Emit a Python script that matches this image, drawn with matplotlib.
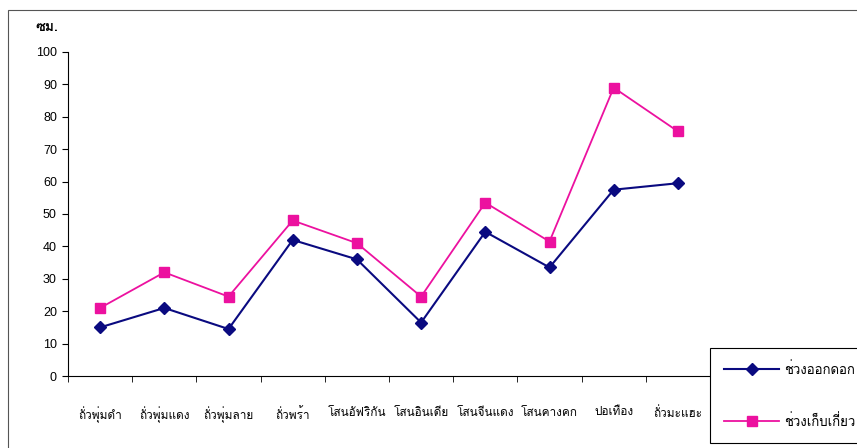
import matplotlib
matplotlib.use("Agg")
import matplotlib.pyplot as plt
from matplotlib.patches import Rectangle

plants = ["ถั่วพุ่มดำ", "ถั่วพุ่มแดง", "ถั่วพุ่มลาย", "ถั่วพร้า", "โสนอัฟริกัน",
          "โสนอินเดีย", "โสนจีนแดง", "โสนคางคก", "ปอเทือง", "ถั่วมะแฮะ"]
flowering = [15, 21, 14.5, 42, 36, 16.5, 44.5, 33.5, 57.5, 59.5]
harvest = [21, 32, 24.5, 48, 41, 24.5, 53.5, 41.5, 89, 75.5]

thai = ["Loma", "DejaVu Sans"]
plt.rcParams["font.family"] = ["Liberation Sans", "DejaVu Sans"]

fig = plt.figure(figsize=(8.57, 4.48), dpi=100)
ax = fig.add_axes([68 / 857, 72 / 448, 642 / 857, 324 / 448])

x = list(range(len(plants)))
ax.plot(x, flowering, color="#0a0a80", lw=1.5, marker="D", ms=6.5,
        label="ช่วงออกดอก")
ax.plot(x, harvest, color="#ec119f", lw=1.3, marker="s", ms=7.5,
        label="ช่วงเก็บเกี่ยว")

ax.set_xlim(-0.5, len(plants) - 0.5)
ax.set_ylim(0, 100)
ax.set_yticks(range(0, 101, 10))
ax.set_xticks(x)
ax.set_xticklabels(plants, family=thai, fontsize=8.5)
ax.set_xticks([i - 0.5 for i in range(len(plants) + 1)], minor=True)
ax.tick_params(axis="x", which="major", length=0, pad=22)
ax.tick_params(axis="x", which="minor", length=4, direction="out")
ax.tick_params(axis="y", length=4, direction="out", labelsize=9, pad=4)

for side in ("top", "right"):
    ax.spines[side].set_visible(False)
for side in ("left", "bottom"):
    ax.spines[side].set_linewidth(0.8)

fig.text(35 / 857, 1 - 28 / 448, "ซม.", family=thai, fontsize=10,
         fontweight="bold", va="center", ha="left")

# outer chart frame
fig.add_artist(Rectangle((8 / 857, -0.05), 1.0, 1 - 10 / 448 + 0.05,
                         transform=fig.transFigure, fill=False,
                         edgecolor="#555555", lw=0.8))

leg = fig.legend(loc="upper left", bbox_to_anchor=(710 / 857, 1 - 348 / 448),
                 prop={"family": thai, "size": 9.5}, handlelength=4.2,
                 handletextpad=0.4, labelspacing=2.8, borderpad=1.05,
                 borderaxespad=0, fancybox=False, edgecolor="black",
                 framealpha=1)
leg.get_frame().set_linewidth(0.8)

fig.savefig("out.png")
